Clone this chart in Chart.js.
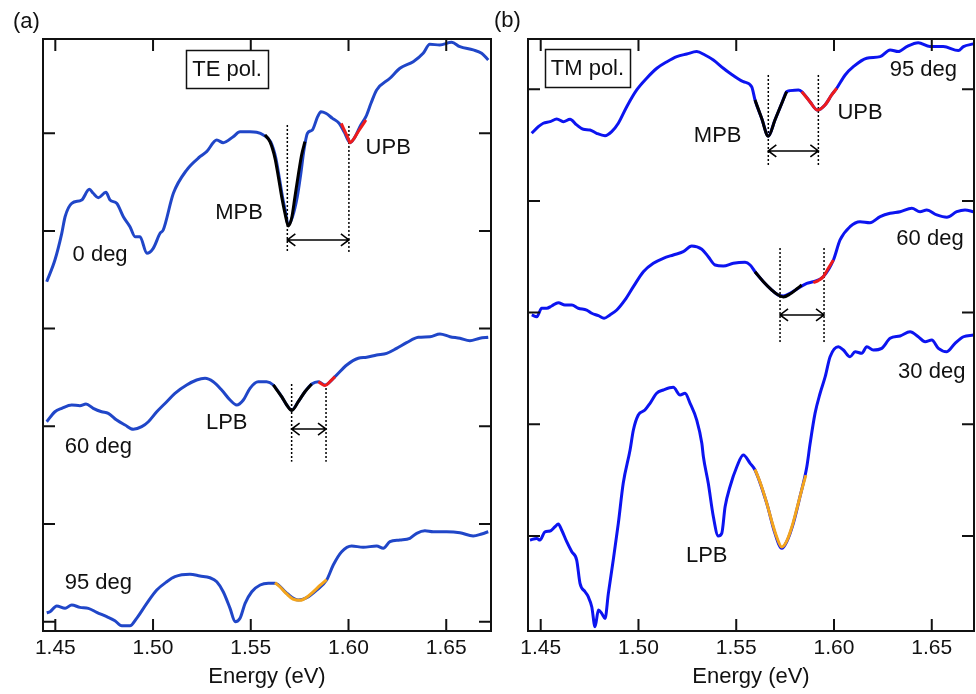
<!DOCTYPE html>
<html>
<head>
<meta charset="utf-8">
<script src="https://cdn.jsdelivr.net/npm/chart.js@4.4.1/dist/chart.umd.min.js"></script>
<style>
  body { margin: 0; background: #fff; }
  #wrap { position: relative; width: 976px; height: 694px; font-family: "Liberation Sans", Arial, sans-serif; color: #111; }
  canvas { position: absolute; top: 0; }
  .tag { position: absolute; font-size: 22px; line-height: 22px; }
</style>
</head>
<body>
<div id="wrap">
  <canvas id="teChart" width="495" height="694" style="left:0"></canvas>
  <canvas id="tmChart" width="481" height="694" style="left:495px"></canvas>
  <div class="tag" style="left:13px;top:10px">(a)</div>
  <div class="tag" style="left:494px;top:9px">(b)</div>
</div>
<script>
// shared energy axis ticks (eV)
const energyTicks = [1.45, 1.50, 1.55, 1.60, 1.65];
const teOffsetTicks = [0, 1, 2, 3, 4, 5];
const tmOffsetTicks = [0, 1, 2, 3, 4];

// TE polarisation spectra, [energy eV, offset signal]
const te0 = [[1.4456,3.480],[1.4498,3.702],[1.4533,3.975],[1.4550,4.145],[1.4584,4.282],[1.4635,4.316],[1.4674,4.426],[1.4694,4.385],[1.4720,4.340],[1.4759,4.395],[1.4780,4.316],[1.4814,4.282],[1.4848,4.145],[1.4882,4.043],[1.4908,3.941],[1.4933,3.941],[1.4968,3.771],[1.5001,3.822],[1.5036,3.975],[1.5052,4.009],[1.5104,4.385],[1.5172,4.623],[1.5240,4.759],[1.5274,4.811],[1.5326,4.930],[1.5359,4.903],[1.5410,4.964],[1.5445,5.015],[1.5496,5.015],[1.5530,5.009],[1.5564,4.982],[1.5602,4.910],[1.5628,4.746],[1.5645,4.555],[1.5662,4.350],[1.5679,4.180],[1.5691,4.060],[1.5713,4.142],[1.5738,4.350],[1.5755,4.572],[1.5772,4.828],[1.5790,4.999],[1.5815,5.033],[1.5842,5.169],[1.5859,5.220],[1.5884,5.204],[1.5918,5.152],[1.5952,5.101],[1.5978,5.012],[1.6008,4.903],[1.6029,4.948],[1.6063,5.084],[1.6089,5.169],[1.6115,5.306],[1.6144,5.442],[1.6212,5.562],[1.6263,5.664],[1.6331,5.732],[1.6382,5.818],[1.6416,5.910],[1.6467,5.903],[1.6528,5.930],[1.6570,5.885],[1.6638,5.852],[1.6681,5.818],[1.6715,5.749]];
const te60 = [[1.4456,2.047],[1.4498,2.149],[1.4533,2.184],[1.4584,2.218],[1.4626,2.211],[1.4657,2.228],[1.4694,2.184],[1.4737,2.149],[1.4771,2.133],[1.4814,2.064],[1.4857,2.013],[1.4899,1.969],[1.4942,1.996],[1.4976,2.047],[1.5019,2.149],[1.5070,2.252],[1.5112,2.338],[1.5172,2.423],[1.5223,2.474],[1.5266,2.491],[1.5308,2.456],[1.5351,2.372],[1.5394,2.269],[1.5428,2.218],[1.5462,2.269],[1.5496,2.389],[1.5538,2.456],[1.5581,2.456],[1.5615,2.423],[1.5658,2.303],[1.5684,2.218],[1.5710,2.167],[1.5743,2.252],[1.5777,2.354],[1.5812,2.433],[1.5846,2.456],[1.5880,2.423],[1.5931,2.508],[1.5991,2.627],[1.6050,2.696],[1.6093,2.706],[1.6144,2.730],[1.6195,2.747],[1.6246,2.798],[1.6297,2.856],[1.6357,2.911],[1.6417,2.917],[1.6468,2.945],[1.6519,2.917],[1.6570,2.901],[1.6621,2.876],[1.6672,2.901],[1.6715,2.911]];
const te95 = [[1.4456,0.092],[1.4473,0.102],[1.4507,0.161],[1.4550,0.137],[1.4584,0.171],[1.4626,0.147],[1.4669,0.137],[1.4712,0.096],[1.4763,0.051],[1.4805,0.010],[1.4840,-0.041],[1.4882,-0.041],[1.4916,0.035],[1.4968,0.188],[1.5019,0.324],[1.5070,0.409],[1.5112,0.461],[1.5189,0.485],[1.5240,0.468],[1.5291,0.450],[1.5326,0.409],[1.5359,0.307],[1.5394,0.137],[1.5420,0.000],[1.5445,0.035],[1.5471,0.188],[1.5505,0.307],[1.5548,0.376],[1.5590,0.393],[1.5624,0.393],[1.5684,0.291],[1.5743,0.222],[1.5786,0.246],[1.5837,0.324],[1.5888,0.427],[1.5922,0.580],[1.5965,0.716],[1.6016,0.775],[1.6075,0.762],[1.6144,0.775],[1.6178,0.751],[1.6212,0.819],[1.6263,0.836],[1.6314,0.854],[1.6349,0.905],[1.6391,0.931],[1.6433,0.921],[1.6502,0.921],[1.6570,0.911],[1.6638,0.877],[1.6681,0.898],[1.6715,0.921]];

// TE peak fits
const teMpbFit0 = [[1.5573,4.982],[1.5598,4.913],[1.5624,4.743],[1.5641,4.555],[1.5658,4.350],[1.5675,4.180],[1.5692,4.050],[1.5709,4.129],[1.5726,4.350],[1.5743,4.572],[1.5760,4.776],[1.5777,4.913]];
const teUpbFit0 = [[1.5963,5.101],[1.5978,5.033],[1.5996,4.958],[1.6008,4.903],[1.6029,4.948],[1.6055,5.033],[1.6089,5.135]];
const teMpbFit60 = [[1.5615,2.423],[1.5658,2.303],[1.5684,2.218],[1.5710,2.162],[1.5743,2.252],[1.5777,2.354],[1.5812,2.433]];
const teUpbFit60 = [[1.5846,2.456],[1.5863,2.433],[1.5880,2.418],[1.5906,2.459],[1.5931,2.508]];
const teLpbFit95 = [[1.5624,0.399],[1.5650,0.355],[1.5684,0.284],[1.5716,0.232],[1.5752,0.219],[1.5786,0.250],[1.5818,0.304],[1.5854,0.371],[1.5888,0.430]];

// TM polarisation spectra
const tm95 = [[1.4454,3.605],[1.4488,3.664],[1.4513,3.695],[1.4548,3.709],[1.4582,3.733],[1.4616,3.709],[1.4650,3.731],[1.4684,3.680],[1.4718,3.641],[1.4752,3.635],[1.4786,3.605],[1.4829,3.584],[1.4863,3.620],[1.4897,3.695],[1.4940,3.843],[1.4991,3.993],[1.5042,4.098],[1.5094,4.187],[1.5146,4.246],[1.5196,4.291],[1.5247,4.315],[1.5298,4.336],[1.5340,4.306],[1.5383,4.261],[1.5434,4.187],[1.5468,4.142],[1.5536,4.067],[1.5579,4.022],[1.5596,3.903],[1.5630,3.739],[1.5664,3.581],[1.5698,3.724],[1.5733,3.874],[1.5758,3.978],[1.5775,3.987],[1.5818,3.993],[1.5835,3.978],[1.5877,3.888],[1.5915,3.813],[1.5954,3.858],[1.5988,3.948],[1.6014,4.008],[1.6057,4.127],[1.6099,4.201],[1.6167,4.277],[1.6236,4.291],[1.6287,4.351],[1.6329,4.336],[1.6372,4.381],[1.6431,4.416],[1.6491,4.381],[1.6559,4.381],[1.6636,4.345],[1.6662,4.381],[1.6713,4.405]];
const tm60 = [[1.4454,1.979],[1.4480,1.963],[1.4505,2.039],[1.4531,2.039],[1.4556,2.059],[1.4590,2.089],[1.4624,2.068],[1.4659,2.068],[1.4692,2.039],[1.4735,2.023],[1.4761,1.994],[1.4795,1.972],[1.4824,1.949],[1.4854,1.979],[1.4889,2.023],[1.4931,2.113],[1.4974,2.232],[1.5025,2.366],[1.5076,2.441],[1.5127,2.486],[1.5178,2.516],[1.5229,2.545],[1.5272,2.596],[1.5324,2.567],[1.5357,2.500],[1.5392,2.426],[1.5434,2.417],[1.5485,2.441],[1.5545,2.450],[1.5571,2.426],[1.5596,2.366],[1.5639,2.277],[1.5682,2.202],[1.5715,2.157],[1.5741,2.149],[1.5775,2.173],[1.5809,2.209],[1.5861,2.262],[1.5894,2.277],[1.5945,2.321],[1.5997,2.471],[1.6031,2.650],[1.6082,2.769],[1.6133,2.814],[1.6184,2.805],[1.6236,2.859],[1.6287,2.889],[1.6338,2.903],[1.6398,2.934],[1.6440,2.903],[1.6474,2.919],[1.6526,2.874],[1.6577,2.853],[1.6628,2.903],[1.6670,2.919],[1.6713,2.903]];
const tm30 = [[1.4445,-0.036],[1.4480,-0.021],[1.4496,-0.036],[1.4522,0.038],[1.4548,0.045],[1.4573,0.083],[1.4590,0.107],[1.4607,0.054],[1.4633,-0.051],[1.4659,-0.141],[1.4684,-0.215],[1.4701,-0.423],[1.4727,-0.499],[1.4743,-0.543],[1.4761,-0.633],[1.4778,-0.812],[1.4795,-0.662],[1.4812,-0.692],[1.4829,-0.737],[1.4846,-0.513],[1.4871,-0.215],[1.4897,0.114],[1.4922,0.472],[1.4957,0.770],[1.4974,0.949],[1.4999,1.083],[1.5033,1.128],[1.5059,1.188],[1.5093,1.278],[1.5127,1.307],[1.5178,1.331],[1.5213,1.262],[1.5238,1.278],[1.5264,1.188],[1.5298,1.038],[1.5324,0.830],[1.5332,0.710],[1.5357,0.472],[1.5383,0.173],[1.5408,0.000],[1.5426,0.024],[1.5443,0.262],[1.5468,0.441],[1.5503,0.620],[1.5536,0.725],[1.5571,0.651],[1.5596,0.591],[1.5656,0.293],[1.5698,0.024],[1.5733,-0.110],[1.5758,-0.051],[1.5792,0.114],[1.5826,0.352],[1.5861,0.620],[1.5878,0.830],[1.5903,1.098],[1.5929,1.278],[1.5955,1.426],[1.5980,1.605],[1.6022,1.695],[1.6048,1.665],[1.6082,1.605],[1.6108,1.650],[1.6142,1.636],[1.6168,1.695],[1.6201,1.665],[1.6244,1.680],[1.6287,1.770],[1.6338,1.791],[1.6389,1.829],[1.6431,1.784],[1.6466,1.739],[1.6500,1.755],[1.6534,1.680],[1.6577,1.650],[1.6619,1.725],[1.6662,1.784],[1.6713,1.799]];

// TM peak fits
const tmMpbFit95 = [[1.5596,3.903],[1.5630,3.739],[1.5664,3.578],[1.5698,3.724],[1.5733,3.874],[1.5758,3.978]];
const tmUpbFit95 = [[1.5835,3.978],[1.5877,3.888],[1.5915,3.813],[1.5954,3.858],[1.5988,3.948],[1.6014,4.008]];
const tmMpbFit60 = [[1.5596,2.366],[1.5639,2.277],[1.5682,2.202],[1.5715,2.157],[1.5741,2.140],[1.5775,2.166],[1.5809,2.211],[1.5835,2.247]];
const tmUpbFit60 = [[1.5894,2.268],[1.5919,2.286],[1.5945,2.321],[1.5971,2.397],[1.5997,2.471]];
const tmLpbFit30 = [[1.5596,0.597],[1.5627,0.457],[1.5656,0.295],[1.5683,0.125],[1.5709,-0.018],[1.5733,-0.098],[1.5758,-0.045],[1.5786,0.090],[1.5811,0.251],[1.5832,0.394],[1.5856,0.546]];

// peak markers: [energy, top, bottom] and splitting arrows: [from, to, level]
const teMarkers = [[1.5687,5.084,3.779],[1.6002,5.074,3.771],[1.5709,2.433,1.638],[1.5885,2.433,1.638]];
const teArrows = [[1.5687,1.6002,3.907],[1.5709,1.5885,1.972]];
const tmMarkers = [[1.5664,4.127,3.306],[1.5920,4.127,3.306],[1.5724,2.578,1.734],[1.5949,2.578,1.734]];
const tmArrows = [[1.5664,1.5920,3.447],[1.5724,1.5949,1.979]];

// text labels: [text, energy, level]
const teLabels = [['MPB',1.5440,4.180],['UPB',1.6203,4.845],['0 deg',1.4729,3.753],['LPB',1.5377,2.037],['60 deg',1.4720,1.791],['95 deg',1.4720,0.393]];
const tmLabels = [['MPB',1.5405,3.581],['UPB',1.6133,3.784],['95 deg',1.6457,4.172],['60 deg',1.6491,2.656],['30 deg',1.6500,1.471],['LPB',1.5349,-0.179]];

const FONT = '"Liberation Sans", Arial, sans-serif';
const TEXT = '#111';

function curve(points, color, order) {
    return {
        data: points.map(p => ({ x: p[0], y: p[1] })),
        borderColor: color,
        borderWidth: 3,
        pointRadius: 0,
        fill: false,
        cubicInterpolationMode: 'monotone',
        order: order
    };
}

function marker(m) {
    return {
        data: [{ x: m[0], y: m[1] }, { x: m[0], y: m[2] }],
        borderColor: '#000',
        borderWidth: 1.5,
        borderDash: [2, 2],
        pointRadius: 0,
        tension: 0,
        fill: false,
        order: 1
    };
}

// frame with inward ticks, arrows and text labels
const decor = {
    id: 'decor',
    afterDatasetsDraw(chart, args, opts) {
        const { ctx, chartArea: a, scales: { x, y } } = chart;
        ctx.save();
        ctx.strokeStyle = TEXT;
        ctx.lineWidth = 2;
        ctx.strokeRect(a.left, a.top, a.right - a.left, a.bottom - a.top);
        ctx.beginPath();
        energyTicks.forEach(e => {
            const px = x.getPixelForValue(e);
            ctx.moveTo(px, a.top); ctx.lineTo(px, a.top + 12);
            ctx.moveTo(px, a.bottom); ctx.lineTo(px, a.bottom - 12);
        });
        opts.yTicks.forEach(v => {
            const py = y.getPixelForValue(v);
            ctx.moveTo(a.left, py); ctx.lineTo(a.left + 12, py);
            ctx.moveTo(a.right, py); ctx.lineTo(a.right - 12, py);
        });
        ctx.stroke();

        ctx.strokeStyle = '#000';
        ctx.lineWidth = 1.6;
        opts.arrows.forEach(([e1, e2, v]) => {
            const x1 = x.getPixelForValue(e1), x2 = x.getPixelForValue(e2), py = y.getPixelForValue(v);
            ctx.beginPath();
            ctx.moveTo(x1, py); ctx.lineTo(x2, py);
            ctx.moveTo(x1 + 8, py - 6); ctx.lineTo(x1, py); ctx.lineTo(x1 + 8, py + 6);
            ctx.moveTo(x2 - 8, py - 6); ctx.lineTo(x2, py); ctx.lineTo(x2 - 8, py + 6);
            ctx.stroke();
        });

        ctx.fillStyle = TEXT;
        ctx.font = '22px ' + FONT;
        ctx.textAlign = 'center';
        ctx.textBaseline = 'middle';
        opts.labels.forEach(([t, e, v]) => ctx.fillText(t, x.getPixelForValue(e), y.getPixelForValue(v)));

        const [bt, be, bv] = opts.boxed;
        const bx = x.getPixelForValue(be), by = y.getPixelForValue(bv);
        const w = ctx.measureText(bt).width + 12;
        ctx.fillText(bt, bx, by + 1);
        ctx.lineWidth = 1.5;
        ctx.strokeStyle = TEXT;
        ctx.strokeRect(Math.round(bx - w / 2) + 0.5, Math.round(by - 19) + 0.5, Math.round(w), 38);
        ctx.restore();
    }
};

function makePanel(id, p) {
    return new Chart(document.getElementById(id), {
        type: 'line',
        data: { datasets: p.datasets },
        options: {
            responsive: false,
            animation: false,
            layout: { padding: p.padding },
            plugins: {
                legend: { display: false },
                tooltip: { enabled: false },
                decor: { yTicks: p.yTicks, arrows: p.arrows, labels: p.labels, boxed: p.boxed }
            },
            scales: {
                x: {
                    type: 'linear',
                    min: p.xRange[0],
                    max: p.xRange[1],
                    afterBuildTicks: s => { s.ticks = energyTicks.map(v => ({ value: v })); },
                    afterFit: s => { s.height = 63; },
                    grid: { display: false, drawTicks: false },
                    border: { display: false },
                    ticks: {
                        autoSkip: false,
                        maxRotation: 0,
                        padding: 5,
                        color: TEXT,
                        font: { family: FONT, size: 21 },
                        callback: v => Number(v).toFixed(2)
                    },
                    title: {
                        display: true,
                        text: 'Energy (eV)',
                        color: TEXT,
                        font: { family: FONT, size: 22 },
                        padding: { top: 0, bottom: 4 }
                    }
                },
                y: { type: 'linear', display: false, min: p.yRange[0], max: p.yRange[1] }
            }
        },
        plugins: [decor]
    });
}

const blueTE = '#2046c8';
const blueTM = '#0c14f0';
const red = '#ee1c1c';
const orange = '#f4a51c';

makePanel('teChart', {
    padding: { left: 43, right: 4, top: 39, bottom: 0 },
    xRange: [1.4437, 1.6729],
    yRange: [-0.095, 5.964],
    yTicks: teOffsetTicks,
    arrows: teArrows,
    labels: teLabels,
    boxed: ['TE pol.', 1.5379, 5.655],
    datasets: [
        curve(teMpbFit0, '#000', 0), curve(teUpbFit0, red, 0),
        curve(teMpbFit60, '#000', 0), curve(teUpbFit60, red, 0),
        curve(teLpbFit95, orange, 0),
        ...teMarkers.map(marker),
        curve(te0, blueTE, 2), curve(te60, blueTE, 2), curve(te95, blueTE, 2)
    ]
});

makePanel('tmChart', {
    padding: { left: 33, right: 2, top: 39, bottom: 0 },
    xRange: [1.4435, 1.6716],
    yRange: [-0.850, 4.449],
    yTicks: tmOffsetTicks,
    arrows: tmArrows,
    labels: tmLabels,
    boxed: ['TM pol.', 1.4739, 4.187],
    datasets: [
        curve(tmMpbFit95, '#000', 0), curve(tmUpbFit95, red, 0),
        curve(tmMpbFit60, '#000', 0), curve(tmUpbFit60, red, 0),
        curve(tmLpbFit30, orange, 0),
        ...tmMarkers.map(marker),
        curve(tm95, blueTM, 2), curve(tm60, blueTM, 2), curve(tm30, blueTM, 2)
    ]
});
</script>
</body>
</html>
